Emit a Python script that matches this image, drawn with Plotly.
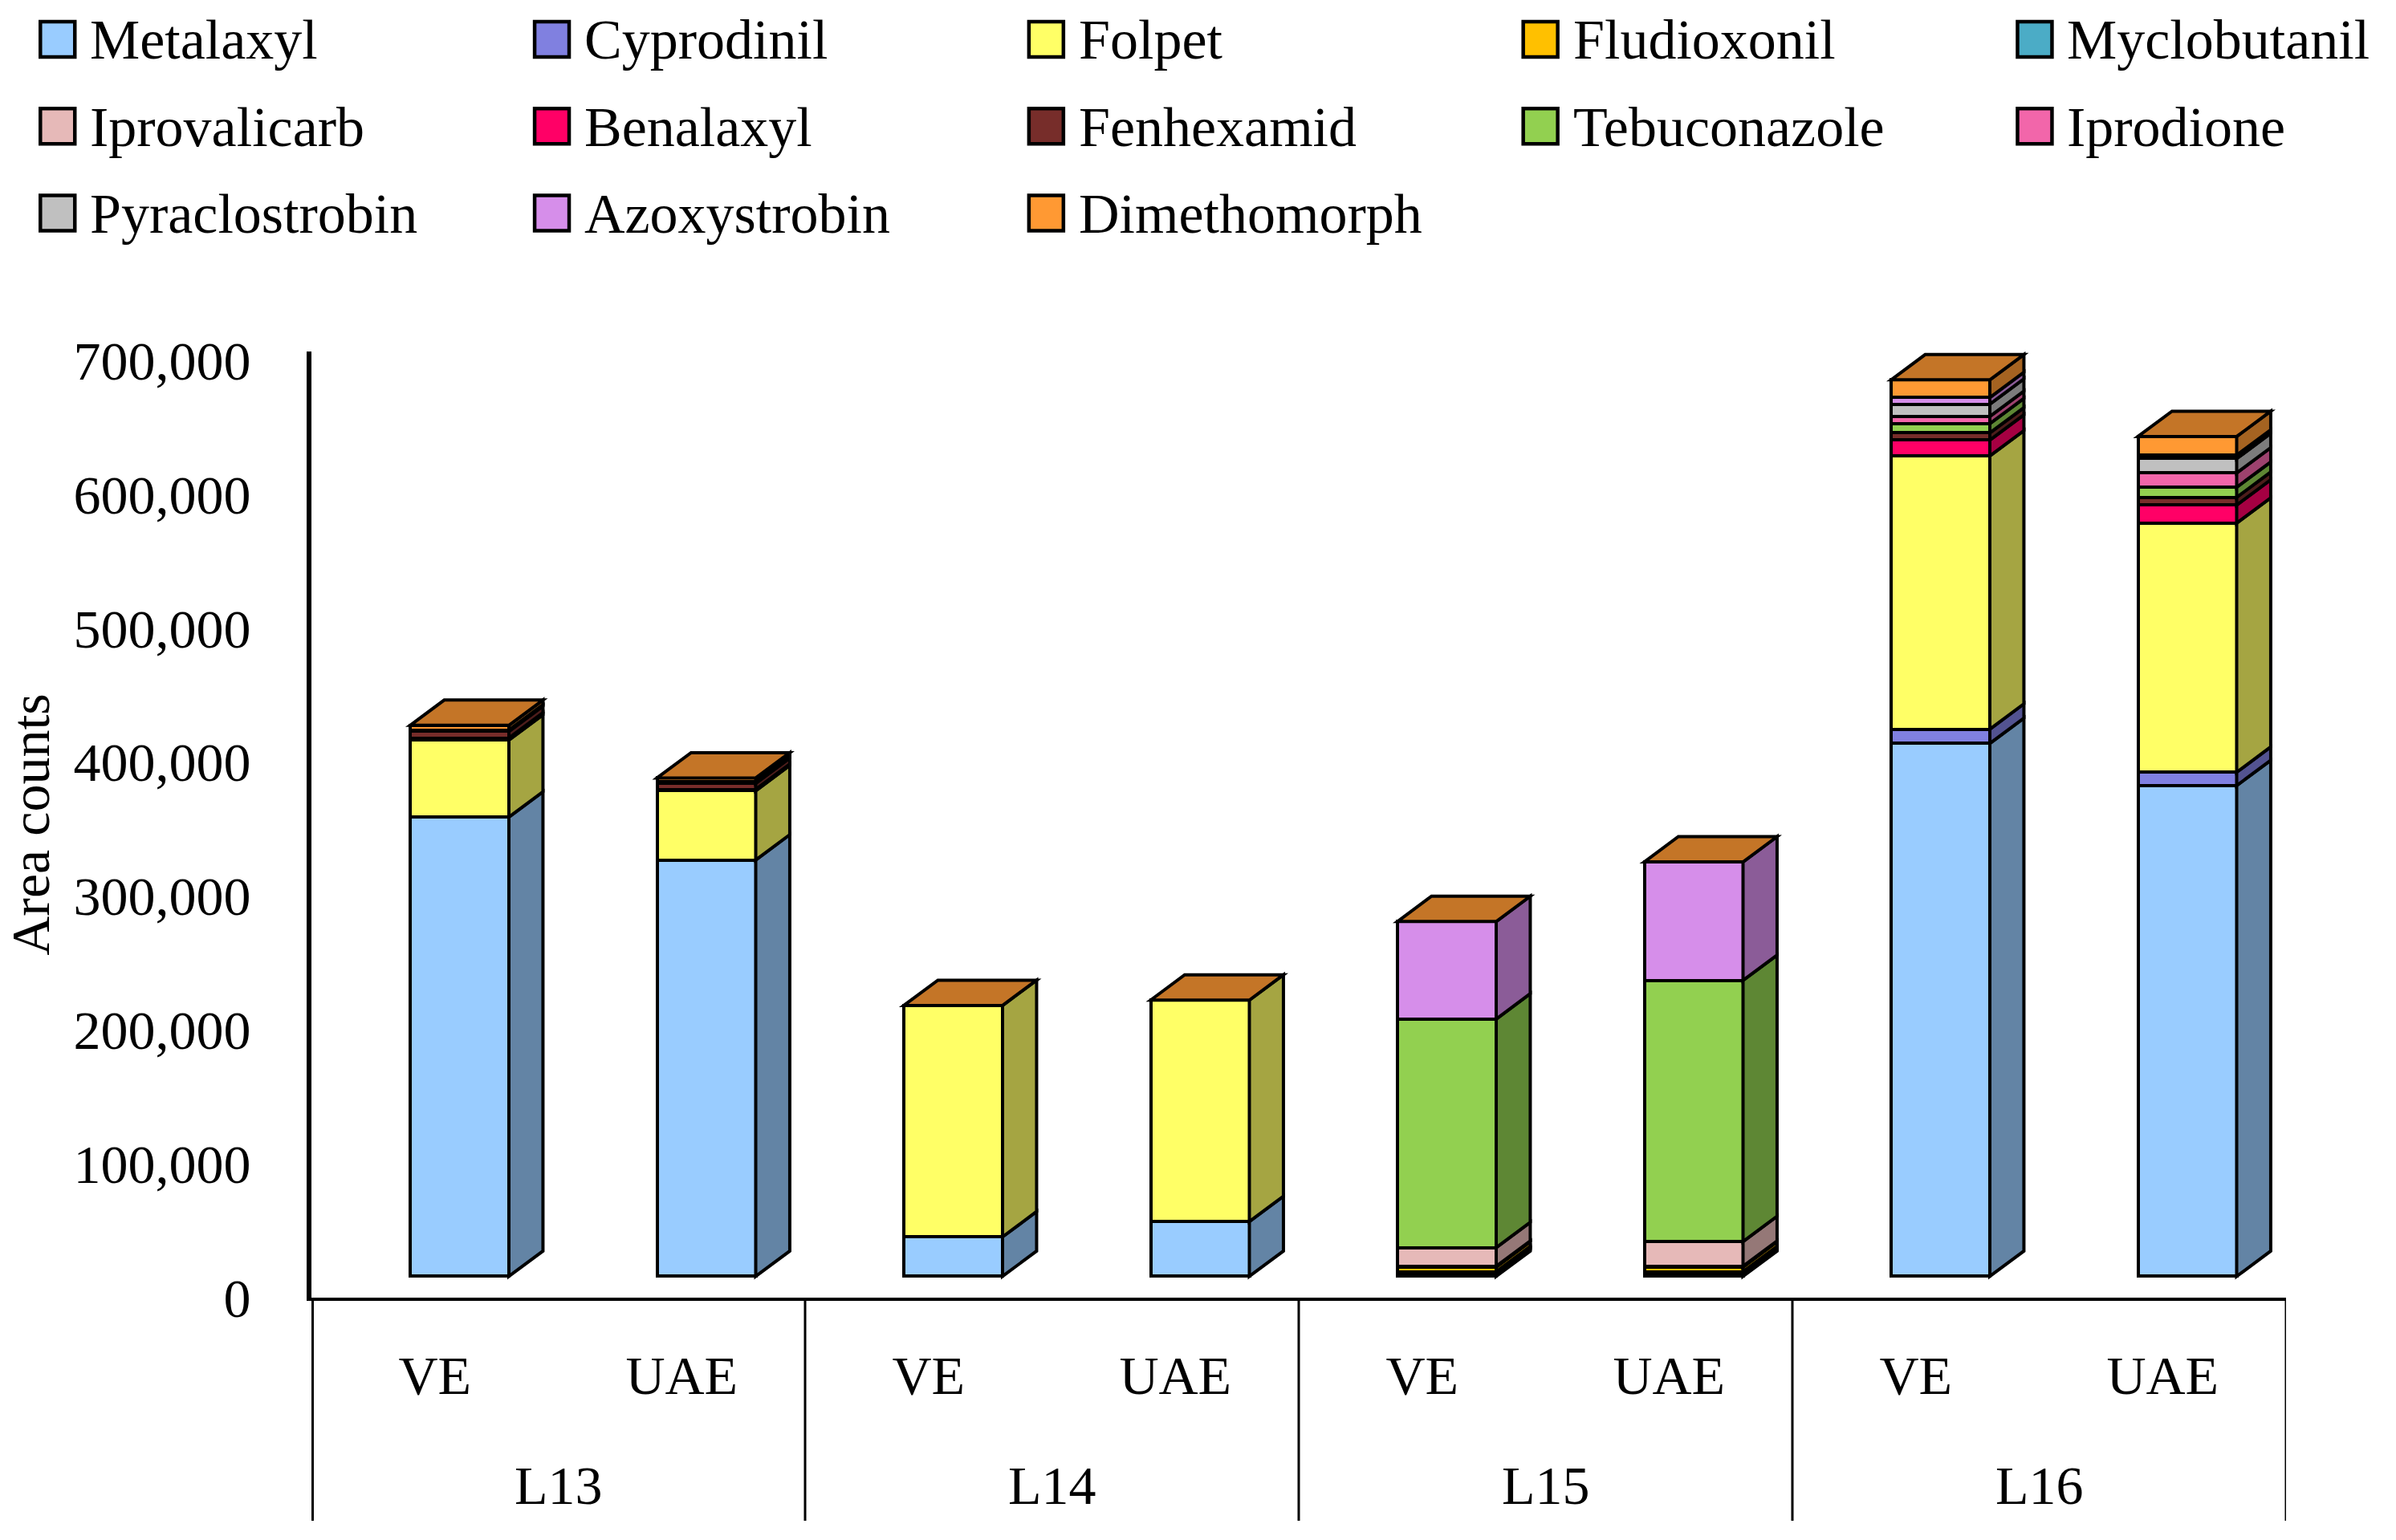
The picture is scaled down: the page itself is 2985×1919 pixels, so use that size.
import plotly.graph_objects as go

# ---------------- data ----------------
categories = ["VE", "UAE", "VE", "UAE", "VE", "UAE", "VE", "UAE"]
groups = ["L13", "L14", "L15", "L16"]

series_names = ["Metalaxyl", "Cyprodinil", "Folpet", "Fludioxonil", "Myclobutanil",
                "Iprovalicarb", "Benalaxyl", "Fenhexamid", "Tebuconazole", "Iprodione",
                "Pyraclostrobin", "Azoxystrobin", "Dimethomorph"]

metalaxyl      = [343000, 311000, 29500, 41000, 1000, 1000, 398000, 366500]
cyprodinil     = [0, 0, 0, 0, 1000, 1000, 10700, 10000]
folpet         = [57500, 51700, 172800, 165300, 1500, 1500, 204000, 186000]
fludioxonil    = [0, 0, 0, 0, 3500, 3500, 0, 0]
myclobutanil   = [0, 0, 0, 0, 500, 500, 0, 0]
iprovalicarb   = [0, 0, 0, 0, 14000, 18500, 0, 0]
benalaxyl      = [1500, 1000, 0, 0, 0, 0, 11800, 13500]
fenhexamid     = [5000, 4500, 0, 0, 0, 0, 5400, 5800]
tebuconazole   = [0, 0, 0, 0, 170700, 195000, 6900, 7500]
iprodione      = [0, 0, 0, 0, 0, 0, 5400, 10700]
pyraclostrobin = [1000, 1000, 0, 0, 0, 0, 9200, 10700]
azoxystrobin   = [0, 0, 0, 0, 72800, 88500, 4900, 2600]
dimethomorph   = [3500, 3000, 0, 0, 0, 0, 13200, 13900]

series_values = [metalaxyl, cyprodinil, folpet, fludioxonil, myclobutanil, iprovalicarb,
                 benalaxyl, fenhexamid, tebuconazole, iprodione, pyraclostrobin,
                 azoxystrobin, dimethomorph]

y_ticks = [0, 100000, 200000, 300000, 400000, 500000, 600000, 700000]

# ---------------- style ----------------
colors = ["#99CCFF", "#8080E0", "#FFFF66", "#FFC000", "#4BACC6", "#E6B9B8", "#FF0066",
          "#772D2A", "#92D050", "#F266AA", "#C0C0C0", "#D68EEA", "#FF9933"]

FONT = "Palatino Linotype, Book Antiqua, Palatino, Liberation Serif, serif"
W, H = 2985, 1919
ML, MR, MT, MB = 386, 137, 438, 302
PW, PH = W - ML - MR, H - MT - MB
PX_PER_700K = 1168.0
Y_TOP = 700000 * PH / PX_PER_700K
LIFT = 15900            # front-face floor sits above the axis zero line
BAR_OFF, BAR_W = -0.10, 0.40
DX = 0.138              # depth offset in x units
DY = 18900              # depth offset in value units
EDGE = 4


def shade(hexc, f):
    h = hexc.lstrip("#")
    r, g, b = (int(h[i:i + 2], 16) for i in (0, 2, 4))
    return "rgb({},{},{})".format(int(r * f), int(g * f), int(b * f))


def ppx(x):   # pixel -> paper x
    return (x - ML) / PW


def ppy(y):   # pixel -> paper y
    return (H - MB - y) / PH


fig = go.Figure()
xs = list(range(len(categories)))

# invisible anchor trace so the value axis (with its ticks) is drawn
fig.add_trace(go.Scatter(x=[xs[0]], y=[y_ticks[0]], mode="markers",
                         marker=dict(opacity=0), showlegend=False, hoverinfo="skip"))

for name, vals, col in zip(series_names, series_values, colors):
    fig.add_trace(go.Bar(
        x=xs, y=vals, name=name, yaxis="y2",
        offset=BAR_OFF, width=BAR_W,
        marker=dict(color=col, line=dict(color="black", width=EDGE)),
        showlegend=False, hoverinfo="skip"))

shapes = []
# side faces and top faces
for j in xs:
    cum = 0
    xr = j + BAR_OFF + BAR_W
    xl = j + BAR_OFF
    for vals, col in zip(series_values, colors):
        v = vals[j]
        if v <= 0:
            continue
        y0, y1 = cum, cum + v
        path = "M {a},{b} L {c},{d} L {c},{e} L {a},{f} Z".format(
            a=xr, b=y0, c=xr + DX, d=y0 + DY, e=y1 + DY, f=y1)
        shapes.append(dict(type="path", path=path, xref="x", yref="y2",
                           fillcolor=shade(col, 0.65),
                           line=dict(color="black", width=EDGE), layer="above"))
        cum = y1
    top = "M {a},{t} L {b},{u} L {c},{u} L {d},{t} Z".format(
        a=xl, t=cum, b=xl + DX, u=cum + DY, c=xr + DX, d=xr)
    shapes.append(dict(type="path", path=top, xref="x", yref="y2",
                       fillcolor=shade(colors[-1], 0.77),
                       line=dict(color="black", width=EDGE), layer="above"))

# category table lines
table_bottom = ppy(1895)
for k, xv in enumerate([-0.5, 1.5, 3.5, 5.5, 7.5]):
    shapes.append(dict(type="line", xref="x", yref="paper", x0=xv, x1=xv,
                       y0=0, y1=table_bottom,
                       line=dict(color="black", width=6 if k == 0 else 3)))

annotations = []
for g, name in enumerate(groups):
    annotations.append(dict(x=2 * g + 0.5, y=ppy(1851), xref="x", yref="paper",
                            text=name, showarrow=False, xanchor="center",
                            yanchor="middle", font=dict(family=FONT, size=68, color="black")))

# legend (manual, 5 columns)
col_x = 48
col_step = 616.3
row_y = 49
row_step = 108.3
for i, (name, col) in enumerate(zip(series_names, colors)):
    r, c = divmod(i, 5)
    x0 = col_x + c * col_step
    yc = row_y + r * row_step
    shapes.append(dict(type="rect", xref="paper", yref="paper",
                       x0=ppx(x0), x1=ppx(x0 + 43), y0=ppy(yc - 22), y1=ppy(yc + 22),
                       fillcolor=col, line=dict(color="black", width=4.5)))
    annotations.append(dict(x=ppx(x0 + 60), y=ppy(yc + 1), xref="paper", yref="paper",
                            text=name, showarrow=False, xanchor="left", yanchor="middle",
                            font=dict(family=FONT, size=70, color="black")))

fig.update_layout(
    width=W, height=H, autosize=False,
    margin=dict(l=ML, r=MR, t=MT, b=MB, pad=0),
    paper_bgcolor="white", plot_bgcolor="white",
    barmode="stack", bargap=0,
    showlegend=False,
    shapes=shapes, annotations=annotations,
    font=dict(family=FONT, color="black"),
    xaxis=dict(range=[-0.5, 7.5], tickvals=xs, ticktext=categories,
               showline=True, linecolor="black", linewidth=4, ticks="",
               showgrid=False, zeroline=False, fixedrange=True,
               tickfont=dict(family=FONT, size=68, color="black"),
               ticklabelstandoff=34),
    yaxis=dict(range=[0, Y_TOP], tickvals=y_ticks, tickformat=",",
               showline=True, linecolor="black", linewidth=6, ticks="",
               showgrid=False, zeroline=False, fixedrange=True,
               tickfont=dict(family=FONT, size=68, color="black"),
               ticklabelstandoff=56,
               title=dict(text="Area counts", standoff=32,
                          font=dict(family=FONT, size=68, color="black"))),
    yaxis2=dict(range=[-LIFT, Y_TOP - LIFT], overlaying="y", visible=False,
                fixedrange=True),
)

fig.write_html("out.html")
